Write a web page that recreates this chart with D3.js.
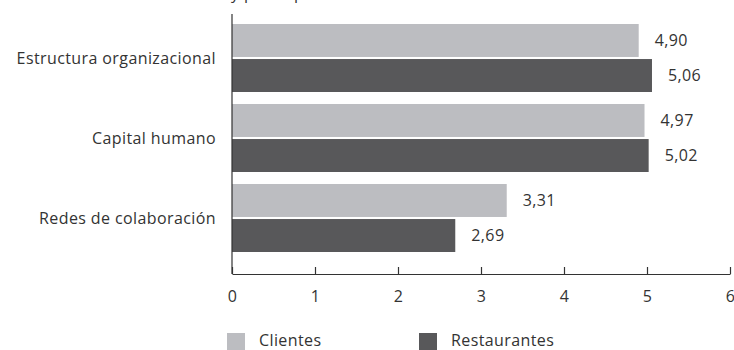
<!DOCTYPE html>
<html><head><meta charset="utf-8">
<script src="https://cdn.jsdelivr.net/npm/d3@7"></script>
<style>body{margin:0;background:#fff}svg{display:block;font-family:"Open Sans",sans-serif;letter-spacing:0.4px}</style>
</head><body><svg id="c" width="734" height="350"></svg>
<script>
const categories = ["Estructura organizacional", "Capital humano", "Redes de colaboración"];
const seriesNames = ["Clientes", "Restaurantes"];
const clientes = [4.90, 4.97, 3.31];
const restaurantes = [5.06, 5.02, 2.69];
const xTicks = [0, 1, 2, 3, 4, 5, 6];
const colors = ["#bcbdc1", "#58585a"];
const titleText = "y por el p";
const textColor = "#333";

const svg = d3.select("#c");
const x = d3.scaleLinear().domain([0, 6]).range([232, 730]);
const y0 = d3.scaleBand().domain(categories).range([18, 258]).paddingInner(0.15).paddingOuter(0.075);
const y1 = d3.scaleBand().domain(seriesNames).range([0, y0.bandwidth()]).paddingInner(4 / 68);
const data = [clientes, restaurantes];
const fmt = v => v.toFixed(2).replace(".", ",");

// clipped title remnant
svg.append("text").attr("x", 231).attr("y", -1).attr("font-size", 16).attr("fill", textColor).text(titleText);

categories.forEach((c, i) => {
  const g = svg.append("g").attr("transform", `translate(0,${y0(c)})`);
  seriesNames.forEach((s, j) => {
    const v = data[j][i];
    g.append("rect").attr("x", x(0)).attr("y", y1(s)).attr("width", x(v) - x(0)).attr("height", y1.bandwidth()).attr("fill", colors[j]);
    g.append("text").attr("x", x(v) + 16).attr("y", y1(s) + y1.bandwidth() / 2).attr("dy", "0.35em")
      .attr("font-size", 16).attr("fill", textColor).text(fmt(v));
  });
  svg.append("text").attr("x", 216).attr("y", y0(c) + y0.bandwidth() / 2).attr("dy", "0.35em")
    .attr("text-anchor", "end").attr("font-size", 16).attr("fill", textColor).text(c);
});

// y axis line
svg.append("line").attr("x1", 232).attr("x2", 232).attr("y1", 14).attr("y2", 274).attr("stroke", "#333").attr("stroke-width", 1.2);

// x axis
const ax = svg.append("g").attr("transform", "translate(0,274)")
  .call(d3.axisBottom(x).tickValues(xTicks).tickSize(-7).tickSizeOuter(0).tickPadding(0).tickFormat(d => d));
ax.select(".domain").attr("stroke", "#333").attr("stroke-width", 1.2);
ax.selectAll(".tick line").attr("stroke", "#333").attr("stroke-width", 1.2);
ax.selectAll(".tick text").attr("y", 22).attr("dy", "0.35em").attr("font-size", 16).attr("fill", textColor)
  .attr("font-family", "'Open Sans',sans-serif");

// legend
const legX = [227, 419];
seriesNames.forEach((s, j) => {
  svg.append("rect").attr("x", legX[j]).attr("y", 333).attr("width", 18).attr("height", 17).attr("fill", colors[j]);
  svg.append("text").attr("x", legX[j] + 32).attr("y", 340).attr("dy", "0.35em").attr("font-size", 16).attr("fill", textColor).text(s);
});
</script></body></html>
